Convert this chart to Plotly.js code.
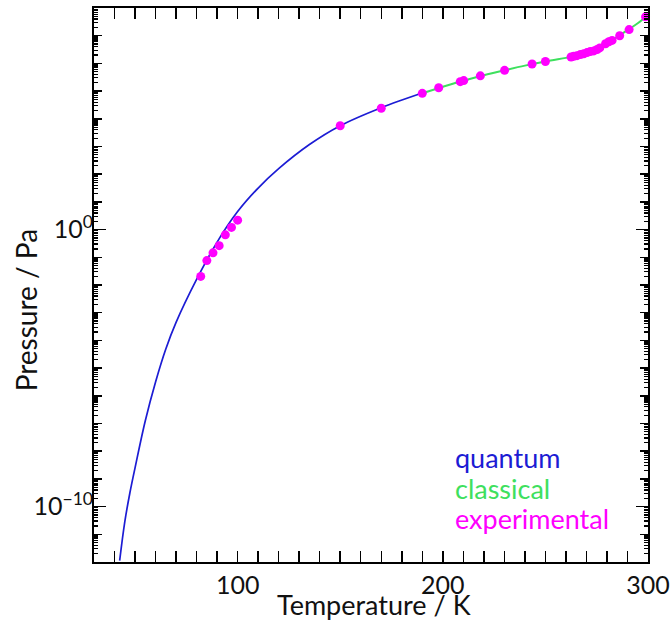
<!DOCTYPE html>
<html>
<head>
<meta charset="utf-8">
<script src="https://cdn.plot.ly/plotly-3.0.1.min.js"></script>
<style>
  html, body { margin: 0; padding: 0; background: #ffffff; }
  #chart { width: 672px; height: 621px; }
</style>
</head>
<body>
<div id="chart"></div>
<script>
// Vapour pressure versus temperature (pressures stored as log10 of Pa)

// Quantum calculation
const quantumT    = [42.5, 45, 47.5, 50, 55, 60, 65, 70, 80, 90, 100, 110, 120, 135, 150, 170, 190];
const quantumLogP = [-11.95, -10.55, -9.5, -8.6, -6.9, -5.5, -4.31, -3.35, -1.8, -0.45, 0.65, 1.5, 2.2, 3.07, 3.75, 4.4, 4.93];

// Classical calculation
const classicalT    = [190, 200, 210, 220, 230, 240, 250, 260, 265, 270, 275, 280, 285, 290, 295, 300];
const classicalLogP = [4.92, 5.16, 5.37, 5.57, 5.75, 5.92, 6.07, 6.2, 6.27, 6.38, 6.51, 6.73, 6.96, 7.2, 7.45, 7.75];

// Experimental measurements
const experimentalT = [82, 85, 88, 91, 94, 97, 100,
  150, 170, 190, 198, 208.5, 210.2, 218.3, 230.1, 243.5, 250,
  262.5, 263.8, 265.4, 267.1, 268.7, 270.3, 271.9, 273.6, 275.2, 276.5,
  279.3, 280.9, 282.5, 286.2, 290.8, 298.8];
const experimentalLogP = [-1.69, -1.12, -0.84, -0.58, -0.19, 0.08, 0.34,
  3.75, 4.38, 4.92, 5.12, 5.34, 5.38, 5.55, 5.75, 5.98, 6.07,
  6.23, 6.26, 6.28, 6.32, 6.35, 6.39, 6.43, 6.45, 6.5, 6.56,
  6.71, 6.78, 6.83, 7.0, 7.22, 7.68];

// Axis labelling
const xTickVals = [100, 200, 300];
const xTickText = ['100', '200', '300'];
const yLabelDecades = [-10, 0];
const yLabelText = ['10<sup>\u221210</sup>', '10<sup>0</sup>'];
const yRangeLog = [-12, 8];
const xRange = [30, 300];

const toPa = arr => arr.map(v => Math.pow(10, v));

const FONT = 'Lato, "Open Sans", "DejaVu Sans", sans-serif';
const BLUE = '#1c1cd4';
const GREEN = '#3ee05e';
const MAGENTA = '#ff00ff';
const INK = '#111111';

// every decade gets a medium tick
const decadeVals = [];
for (let e = yRangeLog[0]; e <= yRangeLog[1]; e++) decadeVals.push(Math.pow(10, e));
// 2..9 sub-decade ticks
const subDecadeVals = [];
for (let e = yRangeLog[0]; e < yRangeLog[1]; e++) {
  for (let k = 2; k <= 9; k++) subDecadeVals.push(k * Math.pow(10, e));
}

const traces = [
  {
    x: quantumT, y: toPa(quantumLogP),
    type: 'scatter', mode: 'lines',
    line: { color: BLUE, width: 1.7, shape: 'spline', smoothing: 1 },
    hoverinfo: 'skip'
  },
  {
    x: classicalT, y: toPa(classicalLogP),
    type: 'scatter', mode: 'lines',
    line: { color: GREEN, width: 2, shape: 'spline', smoothing: 1 },
    hoverinfo: 'skip'
  },
  {
    x: experimentalT, y: toPa(experimentalLogP),
    type: 'scatter', mode: 'markers',
    marker: { color: MAGENTA, size: 9, line: { width: 0 } },
    cliponaxis: false
  },
  // empty trace so the labelled overlay axis is drawn
  { x: [], y: [], yaxis: 'y2', type: 'scatter', mode: 'markers', hoverinfo: 'skip' }
];

const layout = {
  width: 672,
  height: 621,
  margin: { l: 94, r: 24, t: 8, b: 59 },
  paper_bgcolor: '#ffffff',
  plot_bgcolor: '#ffffff',
  showlegend: false,
  font: { family: FONT, color: INK },
  xaxis: {
    type: 'linear',
    range: xRange,
    showgrid: false, zeroline: false,
    showline: true, linecolor: '#000', linewidth: 2, mirror: 'allticks',
    tickmode: 'array', tickvals: xTickVals, ticktext: xTickText,
    ticks: 'inside', ticklen: 11, tickwidth: 1.5, tickcolor: '#000',
    tickfont: { family: FONT, size: 25, color: INK },
    minor: { dtick: 10, tick0: 0, ticks: 'inside', ticklen: 6, tickwidth: 1.5, tickcolor: '#000' }
  },
  // frame, decade ticks and sub-decade ticks
  yaxis: {
    type: 'log',
    range: yRangeLog,
    showgrid: false, zeroline: false,
    showline: true, linecolor: '#000', linewidth: 2, mirror: 'allticks',
    tickmode: 'array', tickvals: decadeVals,
    ticks: 'inside', ticklen: 8, tickwidth: 1.5, tickcolor: '#000',
    showticklabels: false,
    minor: { tickmode: 'array', tickvals: subDecadeVals, ticks: 'inside', ticklen: 4, tickwidth: 1.2, tickcolor: '#000' }
  },
  // longer, labelled ticks at 10^-10 and 10^0
  yaxis2: {
    type: 'log',
    overlaying: 'y',
    anchor: 'x',
    side: 'left',
    range: yRangeLog,
    showgrid: false, zeroline: false, showline: false,
    tickmode: 'array',
    tickvals: yLabelDecades.map(e => Math.pow(10, e)),
    ticktext: yLabelText,
    ticks: 'inside', ticklen: 12, tickwidth: 1.5, tickcolor: '#000',
    mirror: 'allticks',
    tickfont: { family: FONT, size: 25, color: INK }
  },
  annotations: [
    // axis titles
    {
      xref: 'paper', yref: 'paper', x: 0.506, y: -0.076,
      xanchor: 'center', yanchor: 'middle',
      text: 'Temperature / K', showarrow: false,
      font: { family: FONT, size: 27, color: INK }
    },
    {
      xref: 'paper', yref: 'paper', x: -0.122, y: 0.455,
      xanchor: 'center', yanchor: 'middle', textangle: -90,
      text: 'Pressure / Pa', showarrow: false,
      font: { family: FONT, size: 28, color: INK }
    }
  ].concat([
    // series key
    { text: 'quantum', color: BLUE, y: 0.189 },
    { text: 'classical', color: GREEN, y: 0.133 },
    { text: 'experimental', color: MAGENTA, y: 0.0785 }
  ].map(a => ({
    xref: 'paper', yref: 'paper',
    x: 0.648, y: a.y,
    xanchor: 'left', yanchor: 'middle',
    text: a.text, showarrow: false,
    font: { family: FONT, size: 27, color: a.color }
  })))
};

Plotly.newPlot('chart', traces, layout, { displayModeBar: false, staticPlot: true });
</script>
</body>
</html>
